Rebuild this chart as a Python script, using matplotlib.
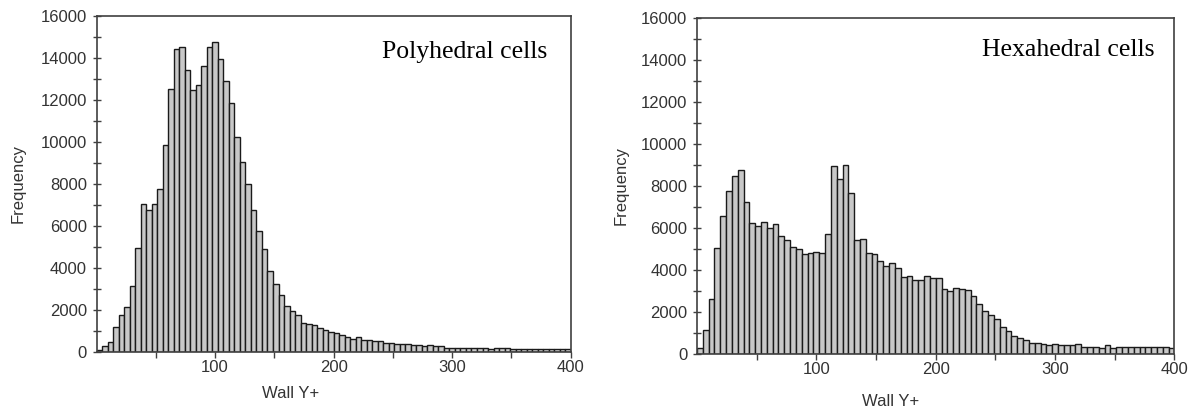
import numpy as np
import matplotlib.pyplot as plt

# bin counts (bins span 0..400)
poly_counts = [80, 285, 476, 1159, 1730, 2111, 3127, 4920, 7048, 6730,
               7048, 7746, 9857, 12492, 14429, 14492, 13429, 12444, 12683, 13619,
               14492, 14746, 13937, 12889, 11857, 10238, 9048, 8000, 6730, 5746,
               4873, 3857, 3238, 2683, 2175, 1937, 1746, 1381, 1317, 1254,
               1127, 1048, 937, 873, 810, 683, 619, 698, 556, 556,
               492, 492, 429, 413, 365, 365, 365, 317, 317, 254,
               317, 254, 254, 190, 190, 170, 170, 170, 170, 170,
               170, 127, 190, 190, 190, 127, 127, 127, 127, 127,
               127, 127, 127, 127, 127, 127]
hexa_counts = [268, 1134, 2614, 5071, 6551, 7748, 8472, 8740, 7244, 6236,
               6110, 6299, 5984, 6173, 5606, 5417, 5118, 4976, 4740, 4803,
               4850, 4803, 5732, 8929, 8346, 8992, 7669, 5417, 5496, 4803,
               4740, 4425, 4173, 4315, 4110, 3669, 3732, 3528, 3528, 3732,
               3606, 3606, 3102, 2992, 3165, 3102, 3055, 2740, 2378, 2063,
               1858, 1654, 1291, 1102, 866, 740, 677, 535, 535, 472,
               409, 472, 409, 409, 409, 472, 346, 346, 346, 283,
               409, 283, 346, 346, 346, 346, 346, 346, 346, 346,
               346, 283]
titles = ['Polyhedral cells', 'Hexahedral cells']
x_max = 400
y_max = 16000

plt.rcParams['font.family'] = ['Liberation Sans', 'DejaVu Sans']

fig = plt.figure(figsize=(12.01, 4.12), dpi=100)
ax1 = fig.add_axes([0.0804, 0.1464, 0.3948, 0.8155])
ax2 = fig.add_axes([0.5803, 0.1408, 0.3976, 0.8155])

setups = [(ax1, poly_counts, titles[0], (0.602, 0.892), (-0.149, 0.5), (0.41, -0.102)),
          (ax2, hexa_counts, titles[1], (0.597, 0.905), (-0.144, 0.5), (0.406, -0.119))]

for ax, counts, title, tpos, ylpos, xlpos in setups:
    edges = np.linspace(0, x_max, len(counts) + 1)
    ax.bar(edges[:-1], counts, width=np.diff(edges), align='edge',
           color='#c8c8c8', edgecolor='#1a1a1a', linewidth=1.0)
    ax.set_xlim(0, x_max)
    ax.set_ylim(0, y_max)
    ax.set_xticks([100, 200, 300, 400])
    ax.set_xticks([50, 150, 250, 350], minor=True)
    ax.set_yticks(np.arange(0, y_max + 1, 2000))
    ax.set_yticks(np.arange(1000, y_max, 2000), minor=True)
    ax.tick_params(axis='y', which='both', direction='inout', length=6,
                   width=1, colors='#404040', labelcolor='#333333', labelsize=12, pad=4)
    ax.tick_params(axis='x', which='both', direction='out', length=4,
                   width=1, colors='#404040', labelcolor='#333333', labelsize=12, pad=2)
    for sp in ax.spines.values():
        sp.set_color('#404040')
        sp.set_linewidth(1.2)
    ax.set_ylabel('Frequency', fontsize=12, color='#333333')
    ax.set_xlabel('Wall Y+', fontsize=12, color='#333333')
    ax.yaxis.set_label_coords(*ylpos)
    ax.xaxis.set_label_coords(*xlpos)
    ax.text(tpos[0], tpos[1], title, transform=ax.transAxes, va='center', ha='left',
            fontsize=18.5, family=['Liberation Serif', 'DejaVu Serif'], color='black')

plt.savefig('out.png', dpi=100)
